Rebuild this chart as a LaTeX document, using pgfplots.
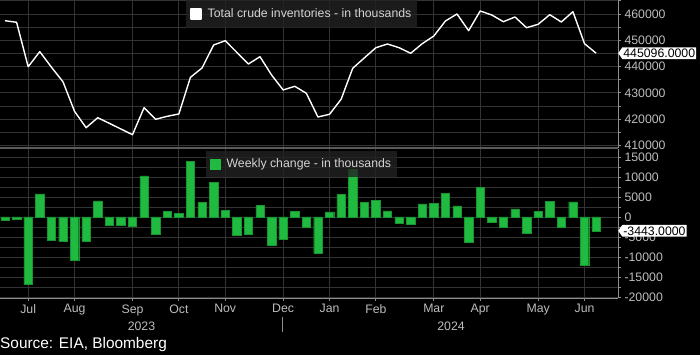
\documentclass[border=0pt]{standalone}
\usepackage{pgfplots}
\pgfplotsset{compat=1.18}
\usepackage{fontspec}
\setmainfont{Liberation Sans}
\usetikzlibrary{shapes.symbols}
\definecolor{gridc}{HTML}{333333}
\definecolor{axisc}{HTML}{8C8C8C}
\definecolor{sepc}{HTML}{5A5A5A}
\definecolor{labc}{HTML}{BDBDBD}
\definecolor{barg}{HTML}{1FBA3F}
\definecolor{bare}{HTML}{17962F}
\definecolor{legbg}{HTML}{222222}
\definecolor{legtx}{HTML}{D4D4D4}
\newcommand{\tf}{\fontsize{12.3}{14}\selectfont}

\pgfplotstableread{
x y
0 457450
1 456850
2 439960
3 445670
4 439800
5 434260
6 423000
7 416770
8 420570
9 418440
10 416280
11 414110
12 424380
13 419970
14 421110
15 421980
16 435930
17 439470
18 448210
19 449850
20 445430
21 440990
22 443770
23 436810
24 431110
25 432510
26 429850
27 420840
28 421870
29 427570
30 439360
31 443300
32 447190
33 448590
34 447190
35 445060
36 448710
37 451640
38 457340
39 460000
40 453650
41 461140
42 459620
43 457070
44 458860
45 454790
46 456080
47 459730
48 456960
49 460870
50 448710
51 445096
}\inventory

\pgfplotstableread{
x y
0 -700
1 -600
2 -16900
3 5800
4 -5700
5 -6000
6 -10800
7 -6000
8 4000
9 -2100
10 -2100
11 -2200
12 10300
13 -4400
14 1400
15 850
16 13900
17 3700
18 8700
19 1700
20 -4600
21 -4200
22 2850
23 -7000
24 -5600
25 1450
26 -2600
27 -9100
28 1300
29 5650
30 12000
31 3700
32 4200
33 1550
34 -1550
35 -1900
36 3250
37 3400
38 5900
39 2800
40 -6400
41 7400
42 -1300
43 -2500
44 2000
45 -4100
46 1400
47 3900
48 -2500
49 3750
50 -12100
51 -3443
}\weekly

\pgfplotsset{
  panel/.style={
    scale only axis, anchor=south west, width=618pt,
    xmin=-0.431, xmax=52.89,
    scaled y ticks=false, scaled x ticks=false,
    axis x line=bottom, axis y line=right,
    y axis line style={-, draw=axisc, line width=0.8pt},
    xtick={2,6,11,15,19,24,28,32,37,41,46,50},
    grid=both,
    major grid style={gridc, line width=0.8pt},
    minor grid style={gridc, line width=0.8pt},
    tick align=outside, major tick length=3pt, minor tick length=3pt,
    tick style={axisc, line width=0.8pt},
    yticklabel style={font=\tf, text=labc},
    xticklabel style={font=\tf, text=labc},
    clip mode=individual,
    legend cell align=left,
    legend style={fill=legbg, fill opacity=0.8, text opacity=1, draw=none,
      font=\tf, text=legtx, inner xsep=4pt, anchor=north west, column sep=4pt},
  },
}

\begin{document}
\begin{tikzpicture}
\path[use as bounding box, fill=black] (0,0) rectangle (700pt,355pt);

\begin{axis}[panel,
  at={(0pt,207pt)}, height=148pt,
  ymin=409053, ymax=465323,
  x axis line style={-, draw=sepc, line width=1.6pt},
  xticklabels={},
  ytick={410000,420000,430000,440000,450000,460000},
  yticklabels={410000,420000,430000,440000,450000,460000},
  minor ytick={415000,425000,435000,445000,455000,465000},
  legend style={at={(0.301,1)}, inner ysep=6.5pt},
  legend image code/.code={\fill[white, fill opacity=1] (0pt,-5pt) rectangle (10pt,5pt);},
]
\addplot[white, line width=1.4pt, line join=round] table[x=x,y=y] {\inventory};
\addlegendentry{Total crude inventories - in thousands\hspace{15pt}}
\node[signal, signal to=west, signal pointer angle=110, fill=white, text=black,
  font=\tf, inner xsep=1pt, inner ysep=1.5pt, anchor=west]
  at (axis cs:52.89,445096) {445096.0000};
\end{axis}

\begin{axis}[panel,
  at={(0pt,57pt)}, height=149pt,
  ymin=-20250, ymax=17000,
  x axis line style={-, draw=axisc, line width=0.8pt},
  xticklabels={Jul,Aug,Sep,Oct,Nov,Dec,Jan,Feb,Mar,Apr,May,Jun},
  ytick={-20000,-15000,-10000,-5000,0,5000,10000,15000},
  yticklabels={-20000,-15000,-10000,-5000,0,5000,10000,15000},
  minor ytick={-17500,-12500,-7500,-2500,2500,7500,12500},
  legend style={at={(0.3333,0.9866)}, inner ysep=5.5pt},
  legend image code/.code={\fill[barg, fill opacity=1] (0pt,-5pt) rectangle (10pt,5pt);},
]
\addplot[ybar, bar width=8.4pt, fill=barg, draw=bare, line width=0.4pt] table[x=x,y=y] {\weekly};
\addlegendentry{Weekly change - in thousands\hspace{15pt}}
\node[signal, signal to=west, signal pointer angle=110, fill=white, text=black,
  font=\tf, inner xsep=1pt, inner ysep=1.5pt, anchor=west]
  at (axis cs:52.89,-3443) {-3443.0000};
\end{axis}

\node[font=\tf, text=labc] at (141.5pt,29pt) {2023};
\node[font=\tf, text=labc] at (451pt,29pt) {2024};
\draw[axisc, line width=0.8pt] (282.7pt,38pt) -- (282.7pt,23pt);
\node[anchor=west, inner sep=0pt, font=\fontsize{15.4}{18}\selectfont, text=white] at (0pt,10pt) {Source: EIA, Bloomberg};
\end{tikzpicture}
\end{document}
